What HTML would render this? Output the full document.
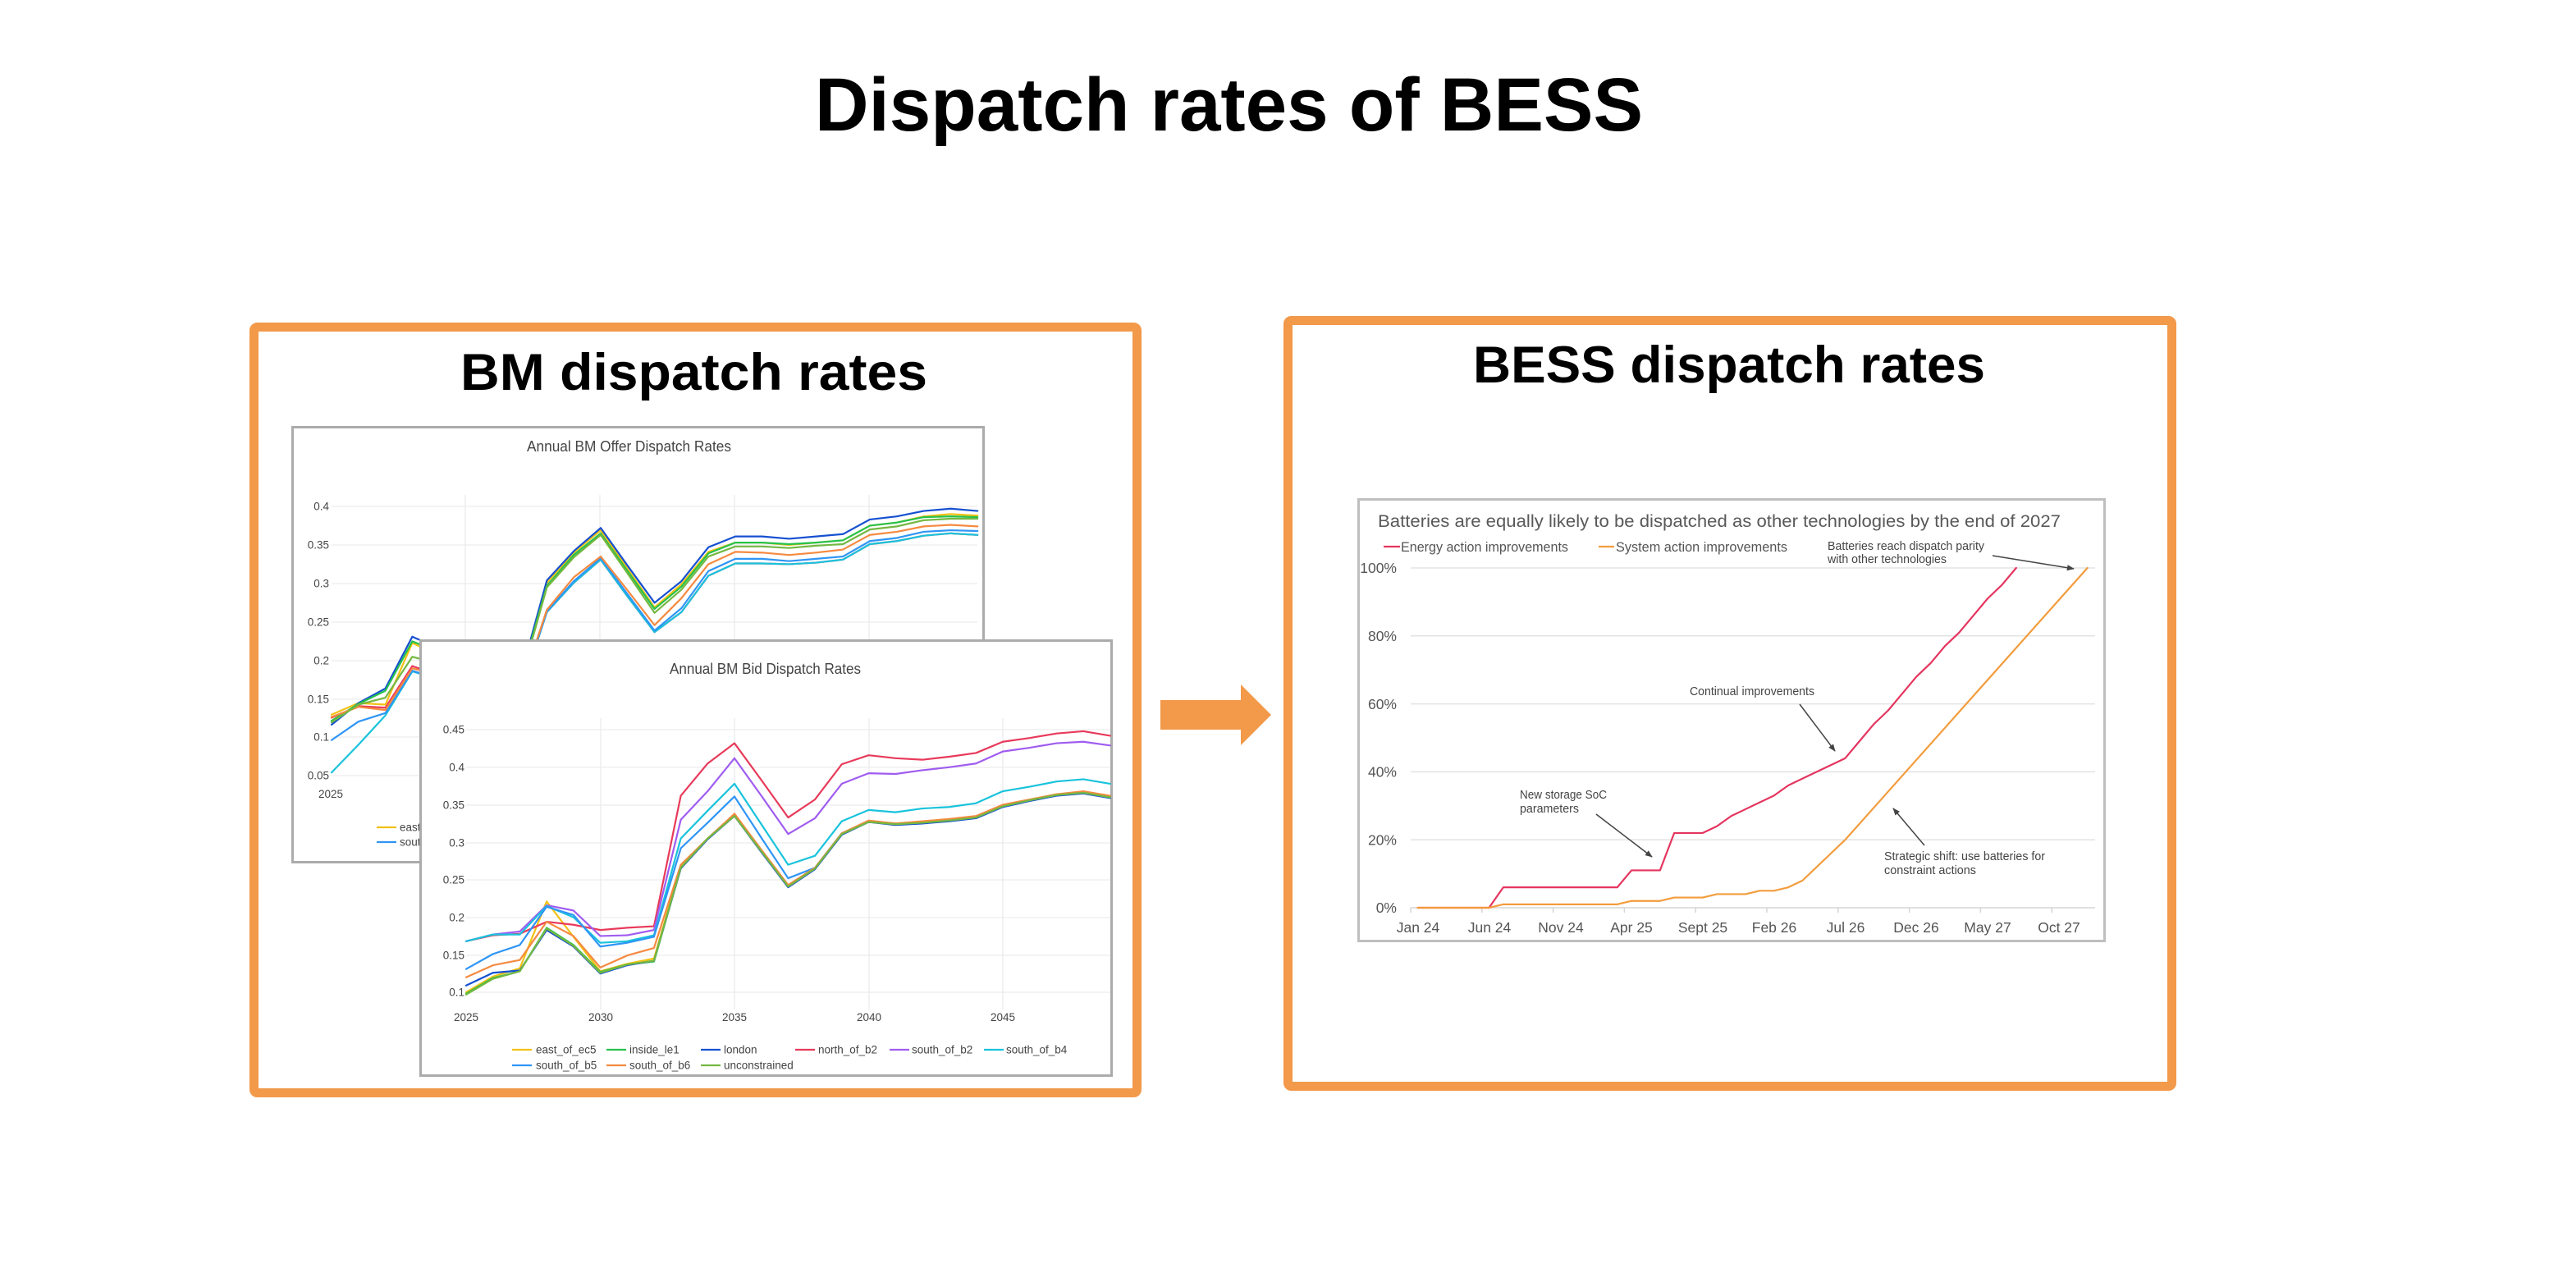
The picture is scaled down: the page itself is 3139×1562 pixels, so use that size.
<!DOCTYPE html>
<html>
<head>
<meta charset="utf-8">
<style>
html,body{margin:0;padding:0;background:#fff;}
svg{display:block;}
text{font-family:"Liberation Sans",Arial,sans-serif;}
.pl{fill:none;stroke-width:2.2;stroke-linejoin:round;stroke-linecap:round;vector-effect:non-scaling-stroke;}
.grid{stroke:#ececec;stroke-width:1.3;}
.tk{font-size:13.5px;fill:#444;}
.lg{font-size:13.5px;fill:#444;}
.rl{font-size:17.5px;fill:#555;}
.an{font-size:14.5px;fill:#444;}
</style>
</head>
<body>
<svg width="3139" height="1562" viewBox="0 0 3139 1562" xmlns="http://www.w3.org/2000/svg">
<defs>
<marker id="ah" viewBox="0 0 10 10" refX="9" refY="5" markerWidth="9" markerHeight="9" markerUnits="userSpaceOnUse" orient="auto"><path d="M0,1 L10,5 L0,9 z" fill="#444"/></marker>
</defs>
<rect width="3139" height="1562" fill="#fff"/>

<!-- Main title -->
<text x="993" y="159" font-size="92" font-weight="bold" fill="#000" textLength="1009" lengthAdjust="spacingAndGlyphs">Dispatch rates of BESS</text>

<!-- LEFT BOX -->
<rect x="309.5" y="398.5" width="1076" height="933" rx="4" fill="#fff" stroke="#F2994A" stroke-width="11"/>
<text x="561" y="475" font-size="63" font-weight="bold" fill="#000" textLength="569" lengthAdjust="spacingAndGlyphs">BM dispatch rates</text>

<!-- Offer chart -->
<rect x="356.5" y="520.5" width="842" height="530" fill="#fff" stroke="#ABABAB" stroke-width="3"/>
<text x="642" y="550" font-size="18" fill="#444" textLength="249" lengthAdjust="spacingAndGlyphs">Annual BM Offer Dispatch Rates</text>
<g class="grid">
<line x1="567" y1="603" x2="567" y2="955"/><line x1="731" y1="603" x2="731" y2="955"/><line x1="895" y1="603" x2="895" y2="955"/><line x1="1059" y1="603" x2="1059" y2="955"/>
<line x1="404" y1="617" x2="1191" y2="617"/><line x1="404" y1="664" x2="1191" y2="664"/><line x1="404" y1="711" x2="1191" y2="711"/><line x1="404" y1="758" x2="1191" y2="758"/>
<line x1="404" y1="805" x2="1191" y2="805"/><line x1="404" y1="852" x2="1191" y2="852"/><line x1="404" y1="898" x2="1191" y2="898"/><line x1="404" y1="945" x2="1191" y2="945"/>
</g>
<g class="tk" text-anchor="end">
<text x="401" y="621.5">0.4</text><text x="401" y="668.5">0.35</text><text x="401" y="715.5">0.3</text><text x="401" y="762.5">0.25</text>
<text x="401" y="809.5">0.2</text><text x="401" y="856.5">0.15</text><text x="401" y="902.5">0.1</text><text x="401" y="949.5">0.05</text>
</g>
<text class="tk" x="403" y="972" text-anchor="middle">2025</text>
<line x1="459" y1="1008" x2="483" y2="1008" stroke="#F2C114" stroke-width="2.2"/>
<text class="lg" x="487" y="1012.5">east_of_ec5</text>
<line x1="459" y1="1026" x2="483" y2="1026" stroke="#2F95F5" stroke-width="2.2"/>
<text class="lg" x="487" y="1030.5">south_of_b5</text>

<g transform="translate(404,992) scale(32.8,-940)">
<polyline class="pl" stroke="#E83A5A" points="0,.125 1,.140 2,.138 3,.192 4,.18 5,.15 6,.155 7,.16 8,.262 9,.300 10,.330 11,.282 12,.236 13,.262 14,.309 15,.325 16,.325 17,.324 18,.326 19,.330 20,.350 21,.354 22,.361 23,.364 24,.362"/>
<polyline class="pl" stroke="#F2C114" points="0,.129 1,.144 2,.142 3,.222 4,.205 5,.165 6,.168 7,.172 8,.300 9,.339 10,.368 11,.318 12,.268 13,.298 14,.340 15,.352 16,.352 17,.349 18,.352 19,.355 20,.374 21,.378 22,.386 23,.389 24,.387"/>
<polyline class="pl" stroke="#1650D0" points="0,.116 1,.144 2,.163 3,.230 4,.215 5,.170 6,.172 7,.176 8,.303 9,.341 10,.371 11,.322 12,.274 13,.302 14,.346 15,.360 16,.360 17,.357 18,.360 19,.363 20,.382 21,.386 22,.393 23,.396 24,.393"/>
<polyline class="pl" stroke="#27C24C" points="0,.121 1,.143 2,.160 3,.224 4,.21 5,.168 6,.17 7,.174 8,.296 9,.336 10,.364 11,.315 12,.266 13,.295 14,.338 15,.352 16,.352 17,.350 18,.352 19,.355 20,.374 21,.378 22,.385 23,.386 24,.385"/>
<polyline class="pl" stroke="#19C3DC" points="0,.054 1,.090 2,.128 3,.185 4,.175 5,.145 6,.15 7,.155 8,.262 9,.300 10,.330 11,.282 12,.236 13,.262 14,.309 15,.325 16,.325 17,.324 18,.326 19,.330 20,.350 21,.354 22,.361 23,.364 24,.362"/>
<polyline class="pl" stroke="#2F95F5" points="0,.096 1,.120 2,.131 3,.186 4,.175 5,.145 6,.15 7,.155 8,.263 9,.302 10,.332 11,.285 12,.238 13,.267 14,.315 15,.331 16,.331 17,.328 18,.331 19,.334 20,.354 21,.358 22,.366 23,.368 24,.367"/>
<polyline class="pl" stroke="#F58A40" points="0,.126 1,.139 2,.135 3,.189 4,.18 5,.15 6,.155 7,.16 8,.265 9,.307 10,.334 11,.290 12,.245 13,.280 14,.324 15,.340 16,.339 17,.336 18,.339 19,.343 20,.362 21,.366 22,.373 23,.375 24,.373"/>
<polyline class="pl" stroke="#74B842" points="0,.119 1,.142 2,.151 3,.204 4,.195 5,.16 6,.165 7,.17 8,.294 9,.333 10,.362 11,.312 12,.261 13,.291 14,.334 15,.347 16,.347 17,.345 18,.348 19,.350 20,.369 21,.373 22,.381 23,.383 24,.383"/>
</g>

<!-- Bid chart -->
<rect x="512.5" y="780.5" width="842" height="530" fill="#fff" stroke="#ABABAB" stroke-width="3"/>
<text x="816" y="821" font-size="18" fill="#444" textLength="233" lengthAdjust="spacingAndGlyphs">Annual BM Bid Dispatch Rates</text>
<g class="grid">
<line x1="732" y1="875" x2="732" y2="1230"/><line x1="895" y1="875" x2="895" y2="1230"/><line x1="1059" y1="875" x2="1059" y2="1230"/><line x1="1222" y1="875" x2="1222" y2="1230"/>
<line x1="568" y1="889" x2="1353" y2="889"/><line x1="568" y1="935" x2="1353" y2="935"/><line x1="568" y1="981" x2="1353" y2="981"/><line x1="568" y1="1027" x2="1353" y2="1027"/>
<line x1="568" y1="1072" x2="1353" y2="1072"/><line x1="568" y1="1118" x2="1353" y2="1118"/><line x1="568" y1="1164" x2="1353" y2="1164"/><line x1="568" y1="1209" x2="1353" y2="1209"/>
</g>
<g class="tk" text-anchor="end">
<text x="566" y="893.5">0.45</text><text x="566" y="939.5">0.4</text><text x="566" y="985.5">0.35</text><text x="566" y="1031.5">0.3</text>
<text x="566" y="1076.5">0.25</text><text x="566" y="1122.5">0.2</text><text x="566" y="1168.5">0.15</text><text x="566" y="1213.5">0.1</text>
</g>
<g class="tk" text-anchor="middle">
<text x="568" y="1244">2025</text><text x="732" y="1244">2030</text><text x="895" y="1244">2035</text><text x="1059" y="1244">2040</text><text x="1222" y="1244">2045</text>
</g>

<g transform="translate(568,1300.4) scale(32.7,-914)">
<polyline class="pl" stroke="#F2C114" points="0,.100 1,.121 2,.132 3,.221 4,.174 5,.128 6,.138 7,.145 8,.268 9,.305 10,.337 11,.289 12,.242 13,.265 14,.311 15,.328 16,.325 17,.327 18,.330 19,.334 20,.349 21,.356 22,.364 23,.367 24,.361"/>
<polyline class="pl" stroke="#27C24C" points="0,.098 1,.119 2,.128 3,.186 4,.163 5,.127 6,.137 7,.141 8,.266 9,.305 10,.336 11,.288 12,.241 13,.265 14,.311 15,.327 16,.324 17,.326 18,.329 19,.333 20,.348 21,.356 22,.363 23,.366 24,.361"/>
<polyline class="pl" stroke="#1650D0" points="0,.109 1,.126 2,.129 3,.183 4,.161 5,.125 6,.136 7,.142 8,.265 9,.304 10,.335 11,.287 12,.240 13,.264 14,.310 15,.327 16,.323 17,.325 18,.328 19,.332 20,.347 21,.355 22,.362 23,.365 24,.359"/>
<polyline class="pl" stroke="#E83A5A" points="0,.168 1,.176 2,.178 3,.194 4,.190 5,.183 6,.186 7,.188 8,.362 9,.405 10,.432 11,.383 12,.333 13,.357 14,.404 15,.416 16,.412 17,.410 18,.414 19,.419 20,.434 21,.439 22,.445 23,.448 24,.442"/>
<polyline class="pl" stroke="#A05CF0" points="0,.168 1,.177 2,.181 3,.216 4,.209 5,.175 6,.176 7,.183 8,.330 9,.368 10,.412 11,.362 12,.311 13,.332 14,.378 15,.392 16,.391 17,.396 18,.400 19,.405 20,.421 21,.426 22,.432 23,.434 24,.429"/>
<polyline class="pl" stroke="#19C3DC" points="0,.168 1,.177 2,.177 3,.215 4,.200 5,.166 6,.168 7,.176 8,.305 9,.342 10,.378 11,.324 12,.270 13,.282 14,.328 15,.343 16,.340 17,.345 18,.347 19,.352 20,.368 21,.374 22,.381 23,.384 24,.378"/>
<polyline class="pl" stroke="#2F95F5" points="0,.131 1,.151 2,.163 3,.214 4,.203 5,.161 6,.166 7,.174 8,.292 9,.326 10,.361 11,.306 12,.252 13,.266 14,.312 15,.328 16,.325 17,.327 18,.330 19,.334 20,.348 21,.356 22,.363 23,.366 24,.360"/>
<polyline class="pl" stroke="#F58A40" points="0,.120 1,.136 2,.143 3,.194 4,.175 5,.133 6,.149 7,.159 8,.270 9,.305 10,.338 11,.290 12,.243 13,.266 14,.312 15,.329 16,.325 17,.328 18,.331 19,.335 20,.350 21,.357 22,.364 23,.368 24,.362"/>
<polyline class="pl" stroke="#74B842" points="0,.097 1,.118 2,.128 3,.185 4,.162 5,.126 6,.137 7,.142 8,.266 9,.305 10,.335 11,.288 12,.241 13,.265 14,.311 15,.327 16,.324 17,.326 18,.329 19,.333 20,.348 21,.356 22,.363 23,.366 24,.360"/>
</g>

<!-- Bid legend -->
<g stroke-width="2.2">
<line x1="624" y1="1279" x2="648" y2="1279" stroke="#F2C114"/>
<line x1="739" y1="1279" x2="763" y2="1279" stroke="#27C24C"/>
<line x1="854" y1="1279" x2="878" y2="1279" stroke="#1650D0"/>
<line x1="969" y1="1279" x2="993" y2="1279" stroke="#E83A5A"/>
<line x1="1084" y1="1279" x2="1108" y2="1279" stroke="#A05CF0"/>
<line x1="1199" y1="1279" x2="1223" y2="1279" stroke="#19C3DC"/>
<line x1="624" y1="1298" x2="648" y2="1298" stroke="#2F95F5"/>
<line x1="739" y1="1298" x2="763" y2="1298" stroke="#F58A40"/>
<line x1="854" y1="1298" x2="878" y2="1298" stroke="#74B842"/>
</g>
<g class="lg">
<text x="653" y="1283.5">east_of_ec5</text>
<text x="767" y="1283.5">inside_le1</text>
<text x="882" y="1283.5">london</text>
<text x="997" y="1283.5">north_of_b2</text>
<text x="1111" y="1283.5">south_of_b2</text>
<text x="1226" y="1283.5">south_of_b4</text>
<text x="653" y="1302.5">south_of_b5</text>
<text x="767" y="1302.5">south_of_b6</text>
<text x="882" y="1302.5">unconstrained</text>
</g>

<!-- Arrow -->
<polygon points="1414,853 1512,853 1512,834 1549,871 1512,908 1512,889 1414,889" fill="#F2994A"/>

<!-- RIGHT BOX -->
<rect x="1569.5" y="390.5" width="1077" height="933" rx="4" fill="#fff" stroke="#F2994A" stroke-width="11"/>
<text x="1795" y="466" font-size="63" font-weight="bold" fill="#000" textLength="624" lengthAdjust="spacingAndGlyphs">BESS dispatch rates</text>

<rect x="1655.5" y="608.5" width="909" height="538" fill="#fff" stroke="#BFBFBF" stroke-width="3"/>
<text x="1679" y="642" font-size="21.5" fill="#595959" textLength="832" lengthAdjust="spacingAndGlyphs">Batteries are equally likely to be dispatched as other technologies by the end of 2027</text>

<line x1="1686" y1="666" x2="1706" y2="666" stroke="#E5355F" stroke-width="2.2"/>
<text x="1707" y="672" font-size="16.5" fill="#555" textLength="204" lengthAdjust="spacingAndGlyphs">Energy action improvements</text>
<line x1="1948" y1="666" x2="1967" y2="666" stroke="#F39C3D" stroke-width="2.2"/>
<text x="1969" y="672" font-size="16.5" fill="#555" textLength="209" lengthAdjust="spacingAndGlyphs">System action improvements</text>

<g stroke="#e3e3e3" stroke-width="1.5">
<line x1="1719" y1="692" x2="2553" y2="692"/>
<line x1="1719" y1="774.8" x2="2553" y2="774.8"/>
<line x1="1719" y1="857.6" x2="2553" y2="857.6"/>
<line x1="1719" y1="940.4" x2="2553" y2="940.4"/>
<line x1="1719" y1="1023.2" x2="2553" y2="1023.2"/>
</g>
<g stroke="#d6d6d6" stroke-width="1.5">
<line x1="1719" y1="1106" x2="2553" y2="1106"/>
<line x1="1719" y1="1106" x2="1719" y2="1112"/>
<line x1="1805.8" y1="1106" x2="1805.8" y2="1112"/>
<line x1="1892.6" y1="1106" x2="1892.6" y2="1112"/>
<line x1="1979.4" y1="1106" x2="1979.4" y2="1112"/>
<line x1="2066.2" y1="1106" x2="2066.2" y2="1112"/>
<line x1="2153" y1="1106" x2="2153" y2="1112"/>
<line x1="2239.8" y1="1106" x2="2239.8" y2="1112"/>
<line x1="2326.6" y1="1106" x2="2326.6" y2="1112"/>
<line x1="2413.4" y1="1106" x2="2413.4" y2="1112"/>
<line x1="2500.2" y1="1106" x2="2500.2" y2="1112"/>
</g>
<g class="rl" text-anchor="end">
<text x="1702" y="698">100%</text>
<text x="1702" y="781">80%</text>
<text x="1702" y="864">60%</text>
<text x="1702" y="946.5">40%</text>
<text x="1702" y="1029.5">20%</text>
<text x="1702" y="1112">0%</text>
</g>
<g class="rl" text-anchor="middle">
<text x="1728" y="1136">Jan 24</text>
<text x="1815" y="1136">Jun 24</text>
<text x="1902" y="1136">Nov 24</text>
<text x="1988" y="1136">Apr 25</text>
<text x="2075" y="1136">Sept 25</text>
<text x="2162" y="1136">Feb 26</text>
<text x="2249" y="1136">Jul 26</text>
<text x="2335" y="1136">Dec 26</text>
<text x="2422" y="1136">May 27</text>
<text x="2509" y="1136">Oct 27</text>
</g>

<g transform="translate(1727.68,1106) scale(17.36,-4.14)">
<polyline class="pl" stroke="#E5355F" points="0,0 5,0 6,6 14,6 15,11 17,11 18,22 20,22 21,24 22,27 23,29 24,31 25,33 26,36 27,38 28,40 29,42 30,44 31,49 32,54 33,58 34,63 35,68 36,72 37,77 38,81 39,86 40,91 41,95 42,100"/>
<polyline class="pl" stroke="#F39C3D" points="0,0 5,0 6,1 14,1 15,2 17,2 18,3 20,3 21,4 23,4 24,5 25,5 26,6 27,8 28,12 29,16 30,20 47,100"/>
</g>

<!-- Annotations -->
<g class="an">
<text x="2227" y="670" textLength="191" lengthAdjust="spacingAndGlyphs">Batteries reach dispatch parity</text>
<text x="2227" y="686" textLength="145" lengthAdjust="spacingAndGlyphs">with other technologies</text>
<text x="2059" y="847" textLength="152" lengthAdjust="spacingAndGlyphs">Continual improvements</text>
<text x="1852" y="973" textLength="106" lengthAdjust="spacingAndGlyphs">New storage SoC</text>
<text x="1852" y="990" textLength="72" lengthAdjust="spacingAndGlyphs">parameters</text>
<text x="2296" y="1048" textLength="196" lengthAdjust="spacingAndGlyphs">Strategic shift: use batteries for</text>
<text x="2296" y="1065" textLength="112" lengthAdjust="spacingAndGlyphs">constraint actions</text>
</g>
<g stroke="#444" stroke-width="1.5" fill="none" marker-end="url(#ah)">
<line x1="2428" y1="677" x2="2527" y2="693"/>
<line x1="2193" y1="858" x2="2236" y2="915"/>
<line x1="1945" y1="992" x2="2013" y2="1044"/>
<line x1="2345" y1="1030" x2="2307" y2="985"/>
</g>
</svg>
</body>
</html>
